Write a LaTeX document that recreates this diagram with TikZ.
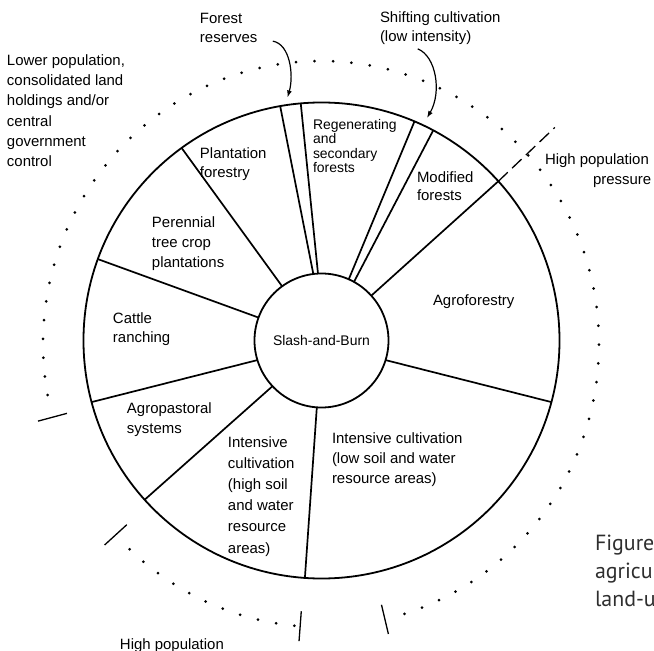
\documentclass[tikz,border=0pt]{standalone}
\usepackage{fontspec}
\setmainfont{Liberation Sans}
\newfontfamily\capfont{PT Sans}
\usetikzlibrary{arrows.meta,calc}
\definecolor{capgray}{HTML}{2E2E2E}

\begin{document}
\begin{tikzpicture}[x=1bp,y=1bp,
  % labels are anchored at the baseline of their last line
  lbl/.style={inner sep=0pt, outer sep=0pt, align=left, anchor=base west,
              font=\fontsize{15}{20.3}\selectfont},
  ring/.style={circle, draw, line width=1.8bp, inner sep=0pt, outer sep=0pt},
  divider/.style={line width=1.7bp},
  pointer/.style={line width=1.2bp, -{Latex[length=7bp,width=5bp]}},
  tickmark/.style={line width=1.3bp},
  extension/.style={line width=1.3bp, dash pattern=on 13bp off 6bp},
]
\useasboundingbox (-321.5,-310.5) rectangle (332.5,340.5);

% wheel: outer rim and the central hub
\node[ring, minimum size=476bp] (rim) at (0,0) {};
\node[ring, minimum size=134bp, font=\fontsize{14}{16}\selectfont] (hub) at (0,0) {Slash-and-Burn};

% sector dividers (inner angle, outer angle)
\foreach \ai/\ao in {42.1/42.4, 61.8/62.4, 66.5/67.2, 93.8/95.2, 97.9/100,
                     126.4/126.7, 160.5/160.3, 197.9/195.7, 223.8/222.6,
                     266.2/266.5, -17.9/-15.4}
  \draw[divider] (hub.\ai) -- (rim.\ao);

% dashed boundary beyond the rim
\coordinate (dash-end) at (42.4:316);
\draw[extension] (rim.42.4) -- (dash-end);

% dotted outer band, upper part
\foreach \k in {0,...,69}
  \fill ({-0.5+278*cos(-72.5+\k*3.81)}, {-3.5+283*sin(-72.5+\k*3.81)}) circle (1.5bp);
% dotted outer band, lower-left part
\foreach \k in {0,...,10}
  \fill ({-0.5+278*cos(226.5+\k*3.8)}, {-3.5+283*sin(226.5+\k*3.8)}) circle (1.5bp);
% end marks of the dotted bands
\foreach \a in {195,222.4,265.7,283.3}
  \draw[tickmark] ({-0.5+263*cos(\a)},{-3.5+268*sin(\a)}) -- ({-0.5+293*cos(\a)},{-3.5+298*sin(\a)});

% outside labels
\node[lbl] (lowpop) at (-314.5,174)
  {Lower population,\\consolidated land\\holdings and/or\\central\\government\\control};
\node[lbl, font=\fontsize{15}{20}\selectfont] (forest) at (-121.5,297.5) {Forest\\reserves};
\node[lbl, font=\fontsize{15}{20}\selectfont] (shifting) at (58.5,298.5) {Shifting cultivation\\(low intensity)};
\node[lbl, font=\fontsize{15}{21}\selectfont] (highpop) at (223.5,155.5) {High population\\\hspace*{48bp}pressure};
\node[lbl] (highpoplow) at (-201.5,-309.3) {High population};

% sector labels
\node[lbl, font=\fontsize{15}{20}\selectfont] (plantfor) at (-121.5,162.5) {Plantation\\forestry};
\node[lbl, font=\fontsize{14}{14.5}\selectfont] (regen) at (-8.5,168) {Regenerating\\and\\secondary\\forests};
\node[lbl, font=\fontsize{15}{19}\selectfont] (modif) at (95.5,139.5) {Modified\\forests};
\node[lbl, font=\fontsize{15}{20.5}\selectfont] (perenn) at (-169.5,72.5) {Perennial\\tree crop\\plantations};
\node[lbl, font=\fontsize{15}{20}\selectfont] (cattle) at (-208.5,-2.5) {Cattle\\ranching};
\node[lbl] (agrofor) at (111.5,34.5) {Agroforestry};
\node[lbl, font=\fontsize{15}{20}\selectfont] (agropast) at (-194.5,-92.5) {Agropastoral\\systems};
\node[lbl, font=\fontsize{15}{21.2}\selectfont] (inthigh) at (-93.5,-212.5)
  {Intensive\\cultivation\\(high soil\\and water\\resource\\areas)};
\node[lbl, font=\fontsize{15}{20}\selectfont] (intlow) at (10.5,-142.5)
  {Intensive cultivation\\(low soil and water\\resource areas)};

% caption
\node[lbl, font=\capfont\fontsize{22}{28}\selectfont, text=capgray] (caption) at (273.5,-265.5)
  {Figure\\agricu\\land-u};

% pointers into the thin sectors
\coordinate (fr-tip) at (-34,243);
\coordinate (sc-tip) at (105.5,222.5);
\draw[pointer] ([xshift=15.5bp,yshift=2bp]forest.south east)
  .. controls (-31.5,296.5) and (-27.5,265.5) .. (fr-tip);
\draw[pointer] ([xshift=-22.5bp,yshift=-3.8bp]shifting.south)
  .. controls (114.5,284.5) and (120.5,248.5) .. (sc-tip);
\end{tikzpicture}
\end{document}
